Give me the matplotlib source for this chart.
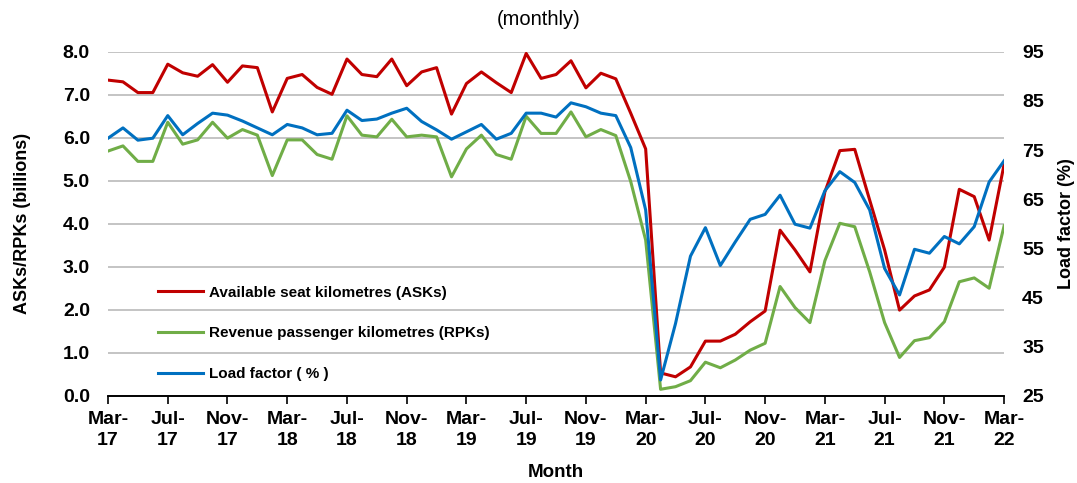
import numpy as np
import matplotlib
matplotlib.use('Agg')
import matplotlib.pyplot as plt

plt.rcParams['font.family'] = ['Liberation Sans', 'DejaVu Sans']

# Monatsdaten Mar-17 .. Mar-22
ask = [7.34, 7.30, 7.05, 7.05, 7.71, 7.51, 7.43, 7.70, 7.29, 7.67, 7.63, 6.60,
       7.38, 7.47, 7.17, 7.01, 7.83, 7.47, 7.42, 7.83, 7.21, 7.53, 7.63, 6.55,
       7.26, 7.53, 7.28, 7.05, 7.96, 7.38, 7.47, 7.79, 7.16, 7.50, 7.37, 6.57,
       5.74, 0.53, 0.44, 0.67, 1.27, 1.27, 1.43, 1.72, 1.97, 3.85, 3.39, 2.88,
       4.74, 5.70, 5.73, 4.55, 3.39, 1.99, 2.32, 2.46, 2.99, 4.80, 4.63, 3.62,
       5.38]
rpk = [5.69, 5.81, 5.45, 5.45, 6.36, 5.85, 5.95, 6.36, 5.99, 6.19, 6.06, 5.12,
       5.95, 5.95, 5.61, 5.50, 6.51, 6.06, 6.02, 6.43, 6.02, 6.06, 6.02, 5.09,
       5.74, 6.06, 5.61, 5.50, 6.50, 6.10, 6.10, 6.60, 6.02, 6.19, 6.05, 4.98,
       3.62, 0.15, 0.21, 0.35, 0.78, 0.65, 0.83, 1.06, 1.22, 2.54, 2.05, 1.70,
       3.14, 4.01, 3.93, 2.88, 1.70, 0.89, 1.28, 1.35, 1.72, 2.65, 2.74, 2.50,
       3.95]
load_factor = [77.4, 79.5, 77.0, 77.4, 82.0, 78.1, 80.4, 82.5, 82.1, 80.9, 79.5, 78.1,
               80.2, 79.5, 78.1, 78.4, 83.1, 81.0, 81.3, 82.5, 83.5, 80.8, 79.1, 77.2,
               78.7, 80.2, 77.2, 78.4, 82.5, 82.5, 81.7, 84.6, 83.8, 82.5, 82.0, 75.5,
               62.8, 28.2, 39.7, 53.4, 59.2, 51.5, 56.3, 60.9, 61.9, 65.8, 59.9, 59.1,
               66.7, 70.6, 68.4, 62.8, 50.9, 45.5, 54.8, 54.0, 57.4, 55.9, 59.4, 68.5,
               72.8]
tick_labels = ['Mar-\n17', 'Jul-\n17', 'Nov-\n17', 'Mar-\n18', 'Jul-\n18', 'Nov-\n18',
               'Mar-\n19', 'Jul-\n19', 'Nov-\n19', 'Mar-\n20', 'Jul-\n20', 'Nov-\n20',
               'Mar-\n21', 'Jul-\n21', 'Nov-\n21', 'Mar-\n22']

x = np.arange(len(ask))

fig = plt.figure(figsize=(10.77, 4.83), dpi=100)
ax = fig.add_axes([0.1003, 0.1807, 0.832, 0.7122])
ax2 = ax.twinx()

l1, = ax.plot(x, ask, color='#C00000', lw=2.2, label='Available seat kilometres (ASKs)')
l2, = ax.plot(x, rpk, color='#70AD47', lw=2.2, label='Revenue passenger kilometres (RPKs)')
l3, = ax2.plot(x, load_factor, color='#0070C0', lw=2.2, label='Load factor ( % )')

ax.set_xlim(0, len(ask) - 1)
ax.set_ylim(0, 8)
ax2.set_ylim(25, 95)
yt = np.arange(0, 8.1, 1.0)
ax.set_yticks(yt)
ax.set_yticklabels([f'{v:.1f}' for v in yt])
ax2.set_yticks(np.arange(25, 96, 10))

ax.set_xticks(np.arange(0, len(ask), 4))
ax.set_xticklabels(tick_labels, fontsize=14, fontweight='bold', linespacing=1.3)
ax.tick_params(axis='x', length=6, width=1.2, color='black', pad=5)
ax.tick_params(axis='y', length=0, labelsize=14, pad=13)
ax2.tick_params(axis='y', length=0, labelsize=14, pad=13)
for lab in ax.get_yticklabels() + ax2.get_yticklabels():
    lab.set_fontweight('bold')

ax.grid(axis='y', color='#BFBFBF', lw=1.3)
ax.set_axisbelow(True)
for a in (ax, ax2):
    for s in ('top', 'left', 'right'):
        a.spines[s].set_visible(False)
    a.spines['bottom'].set_color('black')
    a.spines['bottom'].set_linewidth(1.2)

ax.set_ylabel('ASKs/RPKs (billions)', fontsize=13, fontweight='bold', labelpad=23)
ax2.set_ylabel('Load factor (%)', fontsize=13, fontweight='bold', labelpad=10)
ax.set_xlabel('Month', fontsize=13.5, fontweight='bold', labelpad=11)
fig.text(0.5, 0.96, '(monthly)', ha='center', va='center', fontsize=14.5)

leg = ax2.legend(handles=[l1, l2, l3], loc='upper left', bbox_to_anchor=(0.04, 0.36),
                 frameon=False, prop={'size': 11, 'weight': 'bold'},
                 handlelength=3.0, handletextpad=0.35, labelspacing=1.75)

fig.savefig('out.png', dpi=100)
